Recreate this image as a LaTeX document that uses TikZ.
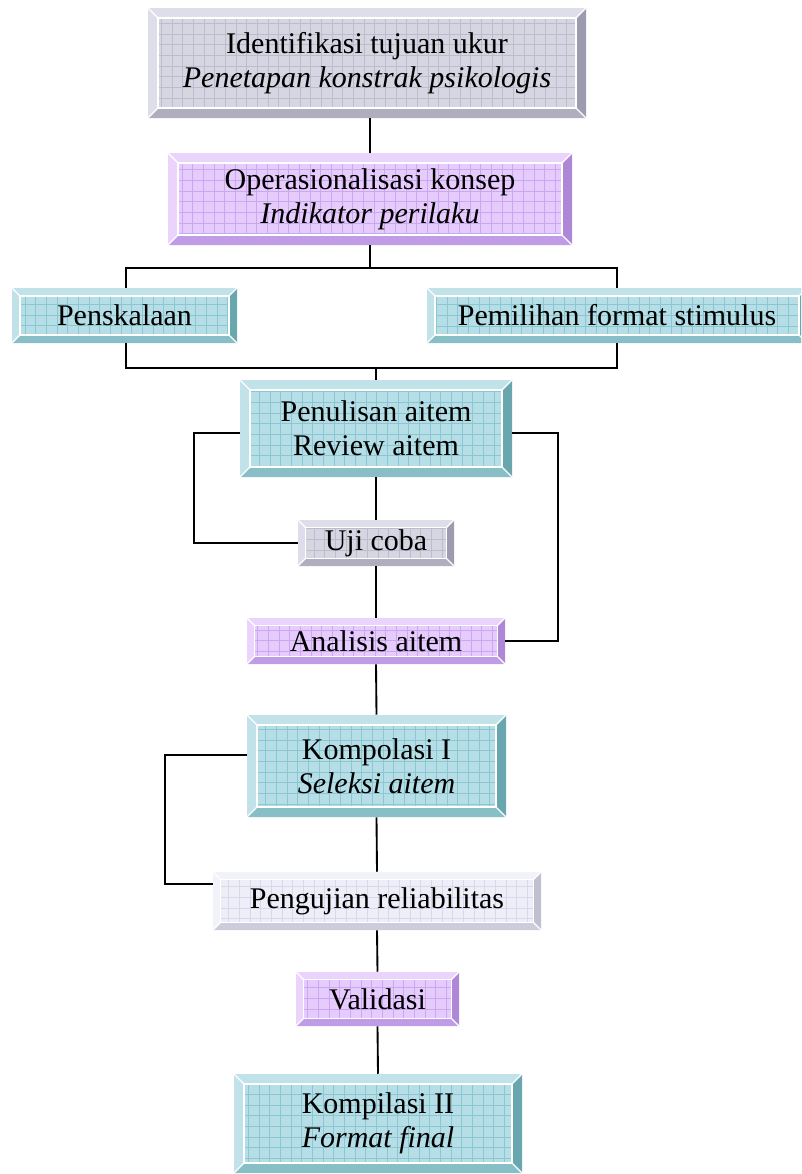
\documentclass[tikz,border=0pt]{standalone}
\usepackage{fontspec}
\setmainfont{Liberation Serif}
\usetikzlibrary{calc}
\definecolor{grayface}{HTML}{D6D6E2}\definecolor{graygrid}{HTML}{BCBCCC}\definecolor{graylight}{HTML}{DEDEEA}\definecolor{grayright}{HTML}{9C9CAE}\definecolor{graybottom}{HTML}{AEAEBE}
\definecolor{purpface}{HTML}{E6CCFC}\definecolor{purpgrid}{HTML}{CDA6F2}\definecolor{purplight}{HTML}{EAD4FC}\definecolor{purpright}{HTML}{AE88D6}\definecolor{purpbottom}{HTML}{C09CE6}
\definecolor{tealface}{HTML}{B6DEE6}\definecolor{tealgrid}{HTML}{8CC6D2}\definecolor{teallight}{HTML}{C0E2E8}\definecolor{tealright}{HTML}{6AA6AE}\definecolor{tealbottom}{HTML}{88BEC6}
\definecolor{paleface}{HTML}{EEEEF8}\definecolor{palegrid}{HTML}{D8D8E8}\definecolor{palelight}{HTML}{F2F2FA}\definecolor{paleright}{HTML}{C0C0D0}\definecolor{palebottom}{HTML}{CCCCDC}
\tikzset{
  bev/.style n args={2}{draw=none, fill=#1face, inner sep=0pt, align=center,
    font=\fontsize{22.5pt}{25.5pt}\selectfont,
    path picture={
      \path (path picture bounding box.south west) coordinate (@sw)
            (path picture bounding box.north east) coordinate (@ne);
      \draw[#1grid, line width=0.6pt, step=8pt] (@sw) grid (@ne);
      \fill[#1light] (@sw|-@ne) -- (@ne) -- ++(-#2,-#2) -- ($(@sw|-@ne)+(#2,-#2)$) -- cycle;
      \fill[#1light] (@sw) -- (@sw|-@ne) -- ++(#2,-#2) -- ($(@sw)+(#2,#2)$) -- cycle;
      \fill[#1right] (@ne) -- (@ne|-@sw) -- ++(-#2,#2) -- ($(@ne)+(-#2,-#2)$) -- cycle;
      \fill[#1bottom] (@sw) -- (@ne|-@sw) -- ++(-#2,#2) -- ($(@sw)+(#2,#2)$) -- cycle;
      \draw[white, line width=1pt] ($(@sw)+(#2,#2)$) rectangle ($(@ne)+(-#2,-#2)$);
      \draw[white, line width=1pt] (@sw|-@ne) -- ++(#2,-#2) (@ne) -- ++(-#2,-#2)
           (@sw) -- ++(#2,#2) (@ne|-@sw) -- ++(-#2,#2);
    }},
  link/.style={draw=black, line width=1.4pt}
}
\begin{document}
\begin{tikzpicture}[x=0.75pt,y=-0.75pt]
\useasboundingbox (0,0) rectangle (801,1174);
\begin{scope}
\clip (0,0) rectangle (801,1174);
\node[bev={gray}{7.5pt}, minimum width=438*0.75pt, minimum height=110*0.75pt] (b1) at (367,63)
  {Identifikasi tujuan ukur\\\textit{Penetapan konstrak psikologis}};
\node[bev={purp}{7.5pt}, minimum width=404*0.75pt, minimum height=92*0.75pt] (b2) at (370,199)
  {Operasionalisasi konsep\\\textit{Indikator perilaku}};
\node[bev={teal}{6pt}, minimum width=225*0.75pt, minimum height=55*0.75pt] (b3) at (124.5,315.5)
  {Penskalaan};
\node[bev={teal}{6pt}, minimum width=380*0.75pt, minimum height=55*0.75pt] (b4) at (617,315.5)
  {Pemilihan format stimulus};
\node[bev={teal}{7.5pt}, minimum width=272*0.75pt, minimum height=97*0.75pt] (b5) at (376,428.5)
  {Penulisan aitem\\Review aitem};
\node[bev={gray}{5.5pt}, minimum width=156*0.75pt, minimum height=46*0.75pt] (b6) at (376,543)
  {Uji coba};
\node[bev={purp}{5.5pt}, minimum width=258*0.75pt, minimum height=46*0.75pt] (b7) at (376,641)
  {Analisis aitem};
\node[bev={teal}{7.5pt}, minimum width=259*0.75pt, minimum height=102*0.75pt] (b8) at (376.5,766)
  {Kompolasi I\\\textit{Seleksi aitem}};
\node[bev={pale}{5.5pt}, minimum width=328*0.75pt, minimum height=58*0.75pt] (b9) at (377,901)
  {Pengujian reliabilitas};
\node[bev={purp}{5.5pt}, minimum width=163*0.75pt, minimum height=54*0.75pt] (b10) at (377.5,999)
  {Validasi};
\node[bev={teal}{7.5pt}, minimum width=288*0.75pt, minimum height=99*0.75pt] (b11) at (378,1123.5)
  {Kompilasi II\\\textit{Format final}};
\end{scope}
% connectors
\coordinate (j1) at (370,268);
\coordinate (j2) at (376,368);
\draw[link] (b1.south -| b2.north) -- (b2.north);
\draw[link] (b2.south) -- (j1);
\draw[link] (b3.north -| 126,0) |- (j1) -| (b4.north);
\draw[link] (b3.south -| 126,0) |- (j2) -| (b4.south);
\draw[link] (j2) -- (b5.north);
\draw[link] (b5.south) -- (b6.north);
\draw[link] (b6.south) -- (b7.north);
\draw[link] (b7.south) -- (b8.north);
\draw[link] ($(b5.west)+(0,4.5)$) -- (194,433) |- (b6.west);
\draw[link] ($(b5.east)+(0,4.5)$) -- (558,433) |- (b7.east);
\draw[link] ($(b8.west)+(0,-11)$) -- (165,755) |- ($(b9.west)+(0,-17)$);
\draw[link] (b8.south) -- (b9.north);
\draw[link] (b9.south) -- (b10.north);
\draw[link] (b10.south) -- (b11.north);
\end{tikzpicture}
\end{document}
